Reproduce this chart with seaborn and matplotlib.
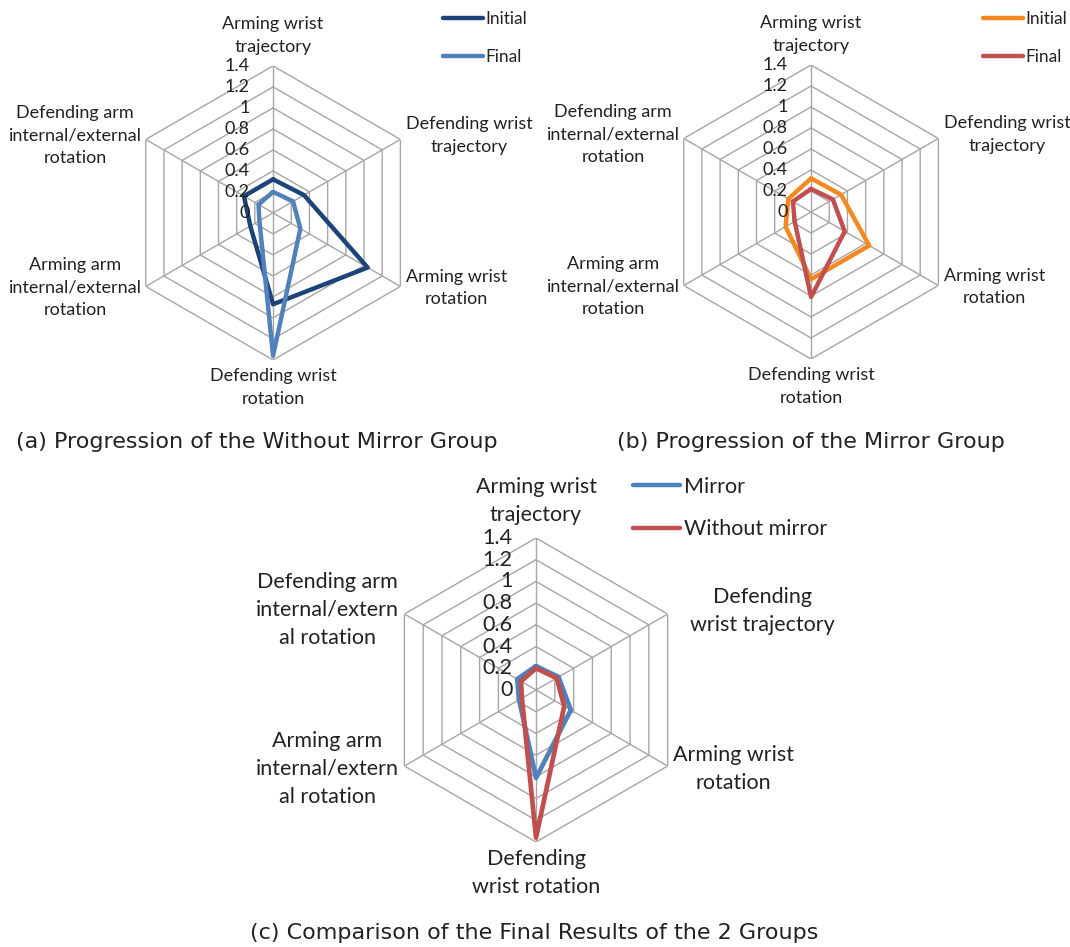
import numpy as np
import pandas as pd
import seaborn as sns
import matplotlib.pyplot as plt
from matplotlib.lines import Line2D

# Axis categories, clockwise from the top
categories_ab = ['Arming wrist\ntrajectory', 'Defending wrist\ntrajectory', 'Arming wrist\nrotation',
                 'Defending wrist\nrotation', 'Arming arm\ninternal/external\nrotation',
                 'Defending arm\ninternal/external\nrotation']
categories_c = ['Arming wrist\ntrajectory', 'Defending\nwrist trajectory', 'Arming wrist\nrotation',
                'Defending\nwrist rotation', 'Arming arm\ninternal/extern\nal rotation',
                'Defending arm\ninternal/extern\nal rotation']

# Values
no_mirror_initial = [0.32, 0.34, 1.04, 0.87, 0.25, 0.32]
no_mirror_final = [0.20, 0.22, 0.30, 1.36, 0.15, 0.16]
mirror_initial = [0.32, 0.33, 0.64, 0.64, 0.28, 0.25]
mirror_final = [0.22, 0.24, 0.37, 0.81, 0.18, 0.20]

rings = [0.2, 0.4, 0.6, 0.8, 1.0, 1.2, 1.4]
ring_labels = ['0', '0.2', '0.4', '0.6', '0.8', '1', '1.2', '1.4']

captions = ['(a) Progression of the Without Mirror Group',
            '(b) Progression of the Mirror Group',
            '(c) Comparison of the Final Results of the 2 Groups']

GRID = '#a6a6a6'
LABEL_FONT = ['Lato', 'DejaVu Sans']


def make_df(series):
    """Long dataframe for seaborn, first point repeated to close the polygon"""
    angles = np.linspace(0, 2 * np.pi, 6, endpoint=False)
    rows = []
    for name, vals in series.items():
        for a, v in zip(list(angles) + [angles[0] + 2 * np.pi], list(vals) + [vals[0]]):
            rows.append({'angle': a, 'value': v, 'series': name})
    return pd.DataFrame(rows)


def radar(ax, series, colors, labels, fs, offsets, tick_dx, lw):
    angles = np.linspace(0, 2 * np.pi, 6, endpoint=False)
    closed = list(angles) + [angles[0]]

    ax.set_theta_offset(np.pi / 2)
    ax.set_theta_direction(-1)
    ax.set_ylim(0, 1.4)
    ax.grid(False)
    ax.spines['polar'].set_visible(False)
    ax.set_xticks([])
    ax.set_yticks([])
    ax.patch.set_alpha(0)

    # hexagon grid + spokes
    for r in rings:
        ax.plot(closed, [r] * 7, color=GRID, lw=1.0, zorder=1)
    for a in angles:
        ax.plot([a, a], [0, 1.4], color=GRID, lw=1.0, zorder=1)

    df = make_df(series)
    sns.lineplot(data=df, x='angle', y='value', hue='series', palette=colors,
                 sort=False, estimator=None, lw=lw, ax=ax, legend=False, zorder=3)
    ax.set_xlabel('')
    ax.set_ylabel('')

    # radial tick labels along the top spoke
    for r, t in zip([0] + rings, ring_labels):
        ax.annotate(t, xy=(0, r), xytext=(tick_dx, 0), textcoords='offset points',
                    ha='right', va='center', fontsize=fs, family=LABEL_FONT, color='#222222')

    # category labels
    aligns = [('center', 'bottom'), ('left', 'center'), ('left', 'center'),
              ('center', 'top'), ('right', 'center'), ('right', 'center')]
    for a, lab, (ha, va), off in zip(angles, labels, aligns, offsets):
        ax.annotate(lab, xy=(a, 1.4), xytext=off, textcoords='offset points',
                    ha=ha, va=va, multialignment='center', fontsize=fs,
                    family=LABEL_FONT, color='#222222', linespacing=1.5)


sns.set_theme()
sns.set_style('white')

fig = plt.figure(figsize=(10.7, 9.47), dpi=100)

ax_a = fig.add_axes([0.1178, 0.6199, 0.2748, 0.3105], projection='polar')
ax_b = fig.add_axes([0.6206, 0.6209, 0.2748, 0.3105], projection='polar')
ax_c = fig.add_axes([0.3589, 0.1109, 0.2841, 0.3210], projection='polar')

off_ab = [(0, 8), (4, 3), (4, -1), (0, -6), (-3, -1), (-3, 3)]
off_c = [(0, 9), (16, 2), (4, -2), (0, -5), (-4, -2), (-4, 3)]

col_a = {'Initial': '#1c4478', 'Final': '#4f81bd'}
col_b = {'Initial': '#f5891f', 'Final': '#c0504d'}
col_c = {'Mirror': '#4f81bd', 'Without mirror': '#c0504d'}

radar(ax_a, {'Initial': no_mirror_initial, 'Final': no_mirror_final}, col_a,
      categories_ab, 13, off_ab, -17, 3.2)
radar(ax_b, {'Initial': mirror_initial, 'Final': mirror_final}, col_b,
      categories_ab, 13, off_ab, -17, 3.2)
radar(ax_c, {'Mirror': mirror_final, 'Without mirror': no_mirror_final}, col_c,
      categories_c, 15.5, off_c, -17, 3.4)


def add_legend(ax, colors, x, y, fs, spacing, hl):
    handles = [Line2D([], [], color=c, lw=3.2, solid_capstyle='round') for c in colors.values()]
    leg = ax.legend(handles, list(colors.keys()), loc='upper left', bbox_to_anchor=(x, y),
                    bbox_transform=fig.transFigure, frameon=False, handlelength=hl,
                    handletextpad=0.15, labelspacing=spacing, borderpad=0,
                    borderaxespad=0, prop={'family': LABEL_FONT, 'size': fs})
    for t in leg.get_texts():
        t.set_color('#222222')


add_legend(ax_a, col_a, 0.414, 0.988, 12.5, 1.25, 2.3)
add_legend(ax_b, col_b, 0.9187, 0.988, 12.5, 1.25, 2.3)
add_legend(ax_c, col_c, 0.5916, 0.4965, 15.5, 1.05, 2.2)

cap_font = ['DejaVu Sans']
fig.text(16 / 1070, 1 - 442 / 947, captions[0], ha='left', va='center', fontsize=16,
         family=cap_font, color='#222222')
fig.text(617 / 1070, 1 - 442 / 947, captions[1], ha='left', va='center', fontsize=16,
         family=cap_font, color='#222222')
fig.text(534 / 1070, 1 - 933 / 947, captions[2], ha='center', va='center', fontsize=16,
         family=cap_font, color='#222222')

plt.savefig('out.png', dpi=100)
